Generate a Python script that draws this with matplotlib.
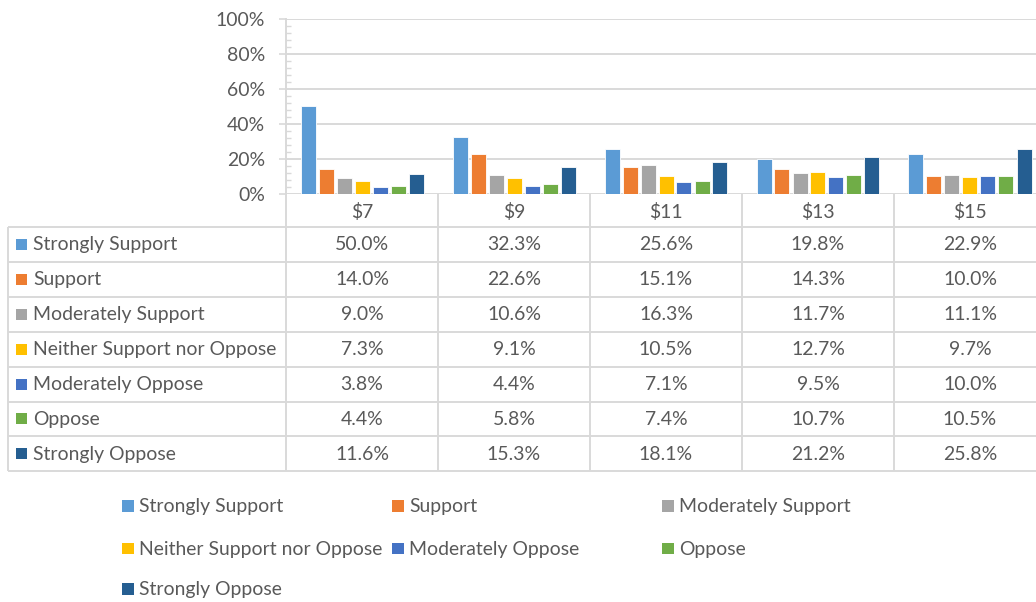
import matplotlib
matplotlib.use("Agg")
import matplotlib.pyplot as plt
from matplotlib.patches import Rectangle
from matplotlib.ticker import MultipleLocator, FuncFormatter
import numpy as np

# ---- data -------------------------------------------------------------
categories = ["$7", "$9", "$11", "$13", "$15"]
series_names = [
    "Strongly Support",
    "Support",
    "Moderately Support",
    "Neither Support nor Oppose",
    "Moderately Oppose",
    "Oppose",
    "Strongly Oppose",
]
strongly_support = [50.0, 32.3, 25.6, 19.8, 22.9]
support = [14.0, 22.6, 15.1, 14.3, 10.0]
moderately_support = [9.0, 10.6, 16.3, 11.7, 11.1]
neither = [7.3, 9.1, 10.5, 12.7, 9.7]
moderately_oppose = [3.8, 4.4, 7.1, 9.5, 10.0]
oppose = [4.4, 5.8, 7.4, 10.7, 10.5]
strongly_oppose = [11.6, 15.3, 18.1, 21.2, 25.8]
y_ticks = [0, 20, 40, 60, 80, 100]

series_values = [strongly_support, support, moderately_support, neither,
                 moderately_oppose, oppose, strongly_oppose]
colors = ["#5B9BD5", "#ED7D31", "#A5A5A5", "#FFC000",
          "#4472C4", "#70AD47", "#255E91"]

# ---- figure / layout (pixel based) -------------------------------------
W, H, DPI = 1036, 602, 100
TEXT = "#595959"
LINE = "#D9D9D9"
FONT = "Lato"

fig = plt.figure(figsize=(W / DPI, H / DPI), dpi=DPI)
fig.patch.set_facecolor("white")

# font size chosen so the longest label spans its cell nicely
probe = fig.text(0, 0, "Neither Support nor Oppose", fontsize=10, family=FONT)
fig.canvas.draw()
w10 = probe.get_window_extent().width
probe.remove()
FS = 10 * 245.0 / w10

plot_left, plot_right = 286, 1046
plot_top, plot_bottom = 18.5, 194
col_w = (plot_right - plot_left) / len(categories)

ax = fig.add_axes([plot_left / W, (H - plot_bottom) / H,
                   (plot_right - plot_left) / W, (plot_bottom - plot_top) / H])
ax.set_xlim(-0.5, len(categories) - 0.5)
ax.set_ylim(0, 100)

x = np.arange(len(categories))
step = 18.0 / col_w
bar_w = 15.0 / col_w
n = len(series_values)
for j, (vals, c) in enumerate(zip(series_values, colors)):
    ax.bar(x + (j - (n - 1) / 2) * step, vals, width=bar_w, color=c,
           edgecolor="white", linewidth=0.6, zorder=3)

ax.set_yticks(y_ticks)
ax.yaxis.set_minor_locator(MultipleLocator(4))
ax.yaxis.set_major_formatter(FuncFormatter(lambda v, p: f"{v:.0f}%"))
ax.set_xticks([])
ax.grid(axis="y", which="major", color=LINE, linewidth=1.4, zorder=0)
ax.tick_params(axis="y", which="major", direction="out", length=5,
               width=1.2, color=LINE, labelcolor=TEXT, labelsize=FS, pad=10)
ax.tick_params(axis="y", which="minor", direction="in", length=3.6,
               width=1.0, color=LINE)
for lab in ax.get_yticklabels():
    lab.set_family(FONT)
for s in ("top", "right", "bottom"):
    ax.spines[s].set_visible(False)
ax.spines["left"].set_color(LINE)
ax.spines["left"].set_linewidth(1.4)

# ---- overlay in pixel coordinates for data table and legend -------------
ov = fig.add_axes([0, 0, 1, 1], zorder=5)
ov.set_xlim(0, W)
ov.set_ylim(H, 0)
ov.axis("off")
ov.patch.set_alpha(0)

lw = 1.4
table_left = 8
cat_row_bottom = 227
row_h = 34.9
rows_y = [cat_row_bottom + i * row_h for i in range(n + 1)]
table_bottom = rows_y[-1]

# vertical grid of the table
for i in range(len(categories) + 1):
    xc = plot_left + i * col_w
    ov.plot([xc, xc], [plot_bottom, table_bottom], color=LINE, lw=lw,
            solid_capstyle="butt")
ov.plot([table_left, table_left], [cat_row_bottom, table_bottom], color=LINE,
        lw=lw, solid_capstyle="butt")
for yy in rows_y:
    ov.plot([table_left, W + 20], [yy, yy], color=LINE, lw=lw,
            solid_capstyle="butt")

# category header row
for i, cat in enumerate(categories):
    ov.text(plot_left + (i + 0.5) * col_w, (plot_bottom + cat_row_bottom) / 2 + 1,
            cat, ha="center", va="center", fontsize=FS, color=TEXT,
            family=FONT, parse_math=False)

# table body
for r, (name, vals, c) in enumerate(zip(series_names, series_values, colors)):
    yc = rows_y[r] + row_h / 2
    ov.add_patch(Rectangle((16, yc - 5.5), 11, 11, facecolor=c, edgecolor="none"))
    ov.text(33, yc + 0.5, name, ha="left", va="center", fontsize=FS,
            color=TEXT, family=FONT)
    for i, v in enumerate(vals):
        ov.text(plot_left + (i + 0.5) * col_w, yc + 0.5, f"{v:.1f}%",
                ha="center", va="center", fontsize=FS, color=TEXT, family=FONT)

# legend, three columns, row-major order
leg_cols = [122, 392, 662]
leg_rows = [506, 548.5, 589]
for k, (name, c) in enumerate(zip(series_names, colors)):
    lx = leg_cols[k % 3]
    ly = leg_rows[k // 3]
    ov.add_patch(Rectangle((lx, ly - 5.8), 11.7, 11.7, facecolor=c,
                           edgecolor="none"))
    ov.text(lx + 17, ly + 0.5, name, ha="left", va="center", fontsize=FS,
            color=TEXT, family=FONT)

fig.savefig("out.png", dpi=DPI, facecolor="white")
